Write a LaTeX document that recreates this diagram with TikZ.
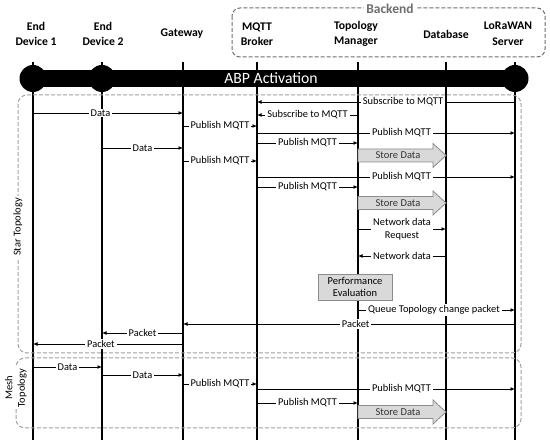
\documentclass[tikz,border=0pt]{standalone}
\usepackage{fontspec}
\setmainfont{Carlito}
\usetikzlibrary{arrows.meta}
\definecolor{boxgray}{RGB}{217,217,217}
\definecolor{edgegray}{RGB}{140,140,140}
\definecolor{dashgray}{RGB}{160,160,160}
\definecolor{backgray}{RGB}{110,110,110}
\newcommand\Msg[5]{\path (0,#3) coordinate (my); \draw[msg] (#1 |- my) -- node[lbl,pos=#5]{#4} (#2 |- my);}
\newcommand\StoreData[1]{%
  \filldraw[fill=boxgray,draw=edgegray,line width=0.8pt]
    (tmt |- 0,#1) ++(0,-6.5) -- (433,#1-6.5) -- (433,#1-12) -- (dbt |- 0,#1) -- (433,#1+12) -- (433,#1+6.5) -- (358,#1+6.5) -- cycle;
  \node[font=\fontsize{10.5}{12}\selectfont,text=black!80] at (398,#1) {Store Data};}
\begin{document}
\begin{tikzpicture}[x=1pt,y=-1pt,
  head/.style={font=\bfseries\fontsize{11.7}{15.5}\selectfont,align=center},
  life/.style={line width=1.5pt},
  msg/.style={line width=0.9pt,-{Latex[length=4.5pt,width=4pt]}},
  lbl/.style={fill=white,inner xsep=2pt,inner ysep=1pt,font=\fontsize{10.4}{12.5}\selectfont,align=center},
  grpbox/.style={draw=dashgray,line width=1pt,dash pattern=on 4pt off 2pt,rounded corners=9pt},
  grplbl/.style={fill=white,inner sep=2pt,font=\fontsize{10.5}{12.5}\selectfont,align=center,rotate=90}]
\useasboundingbox (0,0) rectangle (550,446);
% backend box
\draw[draw=backgray,line width=1pt,dash pattern=on 4pt off 2pt,rounded corners=8pt] (232,8) rectangle (545,57);
\node[fill=white,inner sep=2pt,text=backgray,font=\bfseries\fontsize{13.5}{15}\selectfont] (backend) at (390,9) {Backend};
% headers
\node[head] (ed1) at (36,34) {End\\Device 1};
\node[head] (ed2) at (103,34) {End\\Device 2};
\node[head] (gw) at (182,34) {Gateway};
\node[head] (mq) at (257,34) {MQTT\\Broker};
\node[head] (tm) at (356,34) {Topology\\Manager};
\node[head] (db) at (446,34) {Database};
\node[head] (lw) at (508,34) {LoRaWAN\\Server};
% lifelines
\foreach \n/\x in {ed1/33,ed2/102,gw/183,mq/257,tm/358,db/446,lw/515}{
  \coordinate (\n t) at (\x,62);
  \coordinate (\n b) at (\x,440);
  \draw[life] (\n t) -- (\n b);
}
% group boxes
\draw[grpbox] (18,95) rectangle (521,353);
\node[grplbl] (star) at (18,227) {Star Topology};
\draw[grpbox] (16,358) rectangle (521,428);
\node[grplbl] (mesh) at (16,388) {Mesh\\Topology};
% ABP activation bar
\fill (33,70.5) rectangle (515,87);
\foreach \x in {33,102,515}{\fill (\x,78.5) circle (13.5);}
\node[text=white,font=\fontsize{15.7}{18}\selectfont] (abp) at (271,78.5) {ABP Activation};
% star topology messages
\Msg{lwt}{mqt}{102}{Subscribe to MQTT}{0.434}
\Msg{ed1t}{gwt}{113}{Data}{0.45}
\Msg{tmt}{mqt}{115}{Subscribe to MQTT}{0.5}
\Msg{gwt}{mqt}{126}{Publish MQTT}{0.5}
\Msg{mqt}{lwt}{133}{Publish MQTT}{0.56}
\Msg{mqt}{tmt}{143}{Publish MQTT}{0.5}
\Msg{ed2t}{gwt}{148}{Data}{0.5}
\StoreData{155.5}
\Msg{gwt}{mqt}{161}{Publish MQTT}{0.5}
\Msg{mqt}{lwt}{177}{Publish MQTT}{0.56}
\Msg{mqt}{tmt}{187}{Publish MQTT}{0.5}
\StoreData{203}
\Msg{tmt}{dbt}{229}{Network data\\Request}{0.5}
\Msg{dbt}{tmt}{256}{Network data}{0.5}
\node[draw=edgegray,fill=boxgray,line width=0.8pt,minimum width=74pt,minimum height=26pt,inner sep=1pt,align=center,font=\fontsize{10.5}{12}\selectfont] (perf) at (355,287) {Performance\\Evaluation};
\Msg{tmt}{lwt}{310}{Queue Topology change packet}{0.484}
\Msg{lwt}{gwt}{324}{Packet}{0.48}
\Msg{gwt}{ed2t}{333}{Packet}{0.5}
\Msg{gwt}{ed1t}{344}{Packet}{0.547}
% mesh topology messages
\Msg{ed1t}{ed2t}{367}{Data}{0.5}
\Msg{ed2t}{gwt}{375}{Data}{0.5}
\Msg{gwt}{mqt}{384}{Publish MQTT}{0.5}
\Msg{mqt}{lwt}{389}{Publish MQTT}{0.56}
\Msg{mqt}{tmt}{403}{Publish MQTT}{0.5}
\StoreData{412}
\end{tikzpicture}
\end{document}
